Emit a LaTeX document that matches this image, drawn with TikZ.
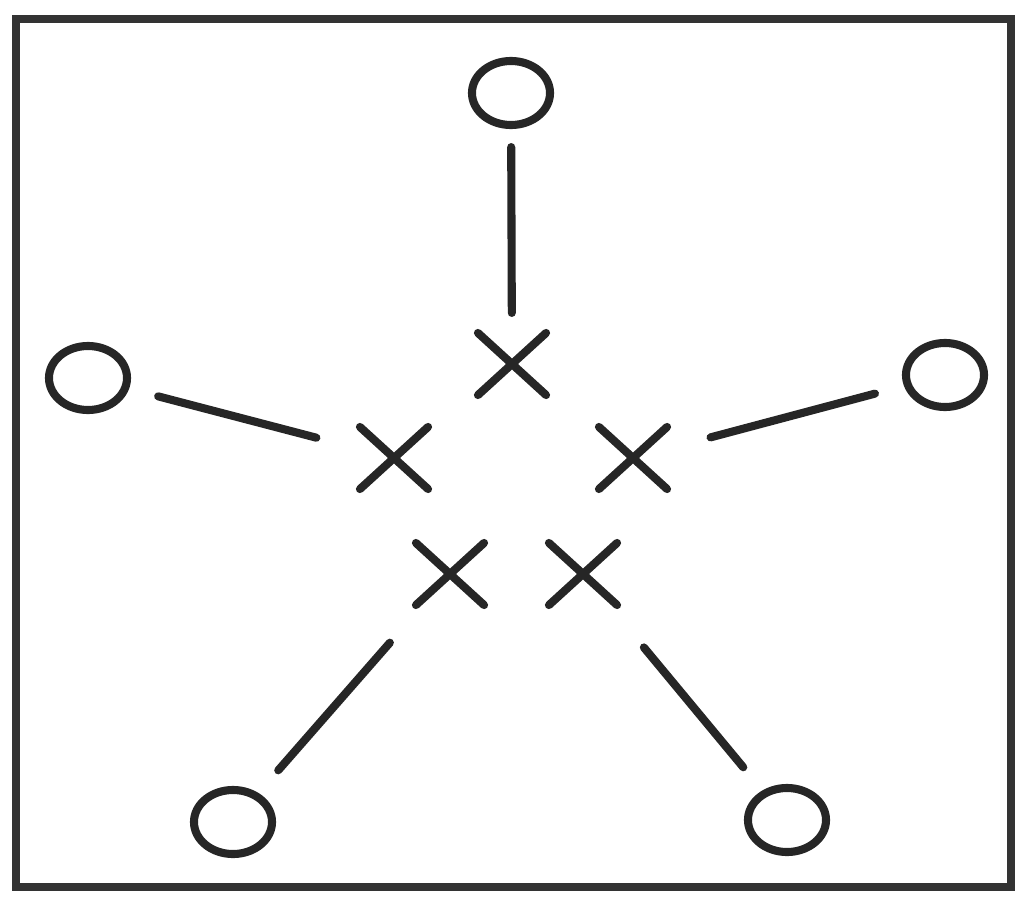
\documentclass[tikz,border=0pt]{standalone}
\usetikzlibrary{shapes.geometric,shapes.misc}
\begin{document}
\begin{tikzpicture}[x=0.01cm,y=-0.01cm,
  ink/.style={line width=2.3pt,draw=black!85,line cap=round},
  ring/.style={ink,ellipse,minimum width=0.78cm,minimum height=0.64cm,inner sep=0pt},
  xmark/.style={ink,cross out,minimum width=0.6cm,minimum height=0.54cm,inner sep=0pt},
  link/.style={ink,shorten <=0.18cm,shorten >=0.2cm}]
\useasboundingbox (0,0) rectangle (1024,897);
\draw[line width=2.4pt,draw=black!80] (16,19) rectangle (1011,887);
\node[ring] (ct) at (511,93) {};
\node[ring] (cl) at (88,378) {};
\node[ring] (cr) at (945,375) {};
\node[ring] (cbl) at (233,822) {};
\node[ring] (cbr) at (787,820) {};
\node[xmark] (xt) at (512,364) {};
\node[xmark] (xl) at (394,458) {};
\node[xmark] (xr) at (633,458) {};
\node[xmark] (xbl) at (450,574) {};
\node[xmark] (xbr) at (583,574) {};
\draw[link] (ct) -- (xt);
\draw[link,shorten <=0.3cm,shorten >=0.45cm] (cl) -- (xl);
\draw[link,shorten <=0.3cm,shorten >=0.45cm] (cr) -- (xr);
\draw[link,shorten <=0.3cm,shorten >=0.5cm] (cbl) -- (xbl);
\draw[link,shorten <=0.3cm,shorten >=0.55cm] (cbr) -- (xbr);
\end{tikzpicture}
\end{document}
